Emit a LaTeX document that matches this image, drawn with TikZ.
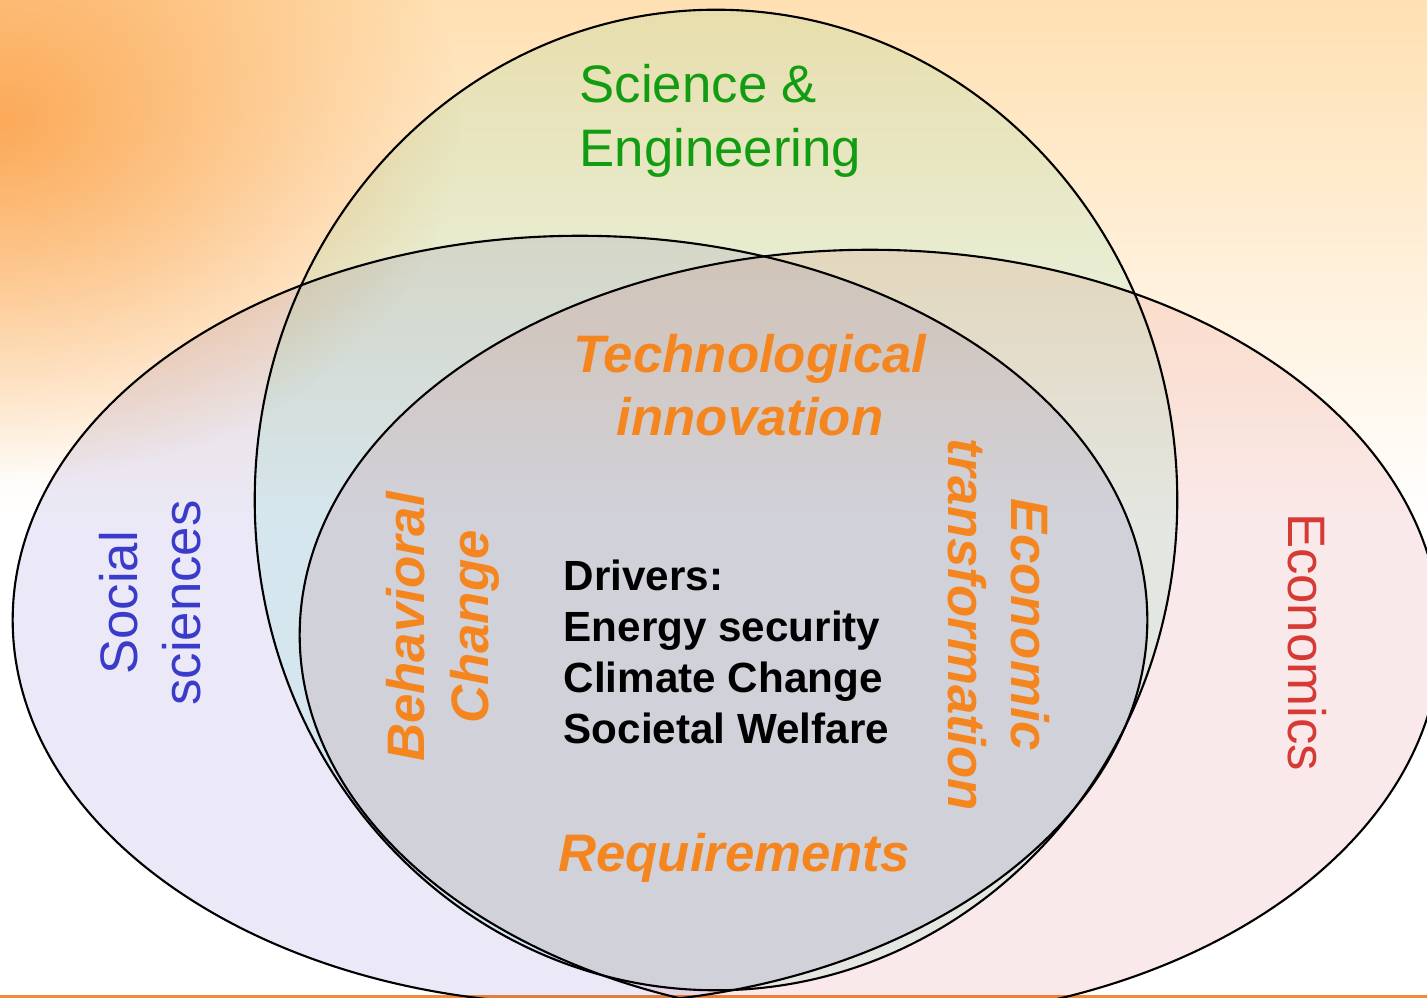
\documentclass[tikz,border=0pt]{standalone}
\usepackage{fontspec}
\setmainfont{Liberation Sans}
\usetikzlibrary{fadings}
\definecolor{bgpeach}{HTML}{FFE0B2}
\definecolor{bgorange}{HTML}{FB9F45}
\definecolor{socfill}{HTML}{EBE9F7}
\definecolor{econfill}{HTML}{FAE9EA}
\definecolor{scifill}{HTML}{E8FCF6}
\definecolor{scigreen}{HTML}{129C12}
\definecolor{socblue}{HTML}{3B3BCB}
\definecolor{econred}{HTML}{D63A35}
\definecolor{keyorange}{HTML}{F5861F}
\definecolor{rule}{HTML}{F58A3A}
\tikzfading[name=glow, inner color=transparent!0, outer color=transparent!100]

\begin{document}
\begin{tikzpicture}[x=0.01cm,y=-0.01cm,
  field/.style={font=\fontsize{15}{18}\selectfont,align=center,inner sep=0pt},
  theme/.style={font=\fontsize{15}{18}\selectfont\bfseries\itshape,text=keyorange,align=center,inner sep=0pt},
  driver/.style={font=\fontsize{12}{14.5}\selectfont\bfseries,align=left,inner sep=0pt},
  rim/.style={draw=black,line width=0.6pt}]
\useasboundingbox (0,0) rectangle (1427,998);
\clip (0,0) rectangle (1427,998);
% backdrop
\fill[white] (0,0) rectangle (1427,998);
\shade[top color=bgpeach,bottom color=white] (0,0) rectangle (1427,520);
\fill[bgorange,path fading=glow,opacity=0.85] (0,120) ellipse [x radius=4.6cm,y radius=3.6cm];
\fill[rule] (0,995) rectangle (1427,998);
% the three fields
\coordinate (socsci) at (580,620);
\coordinate (econ) at (870,635);
\coordinate (scieng) at (716,500);
\begin{scope}[blend mode=multiply]
\fill[socfill] (socsci) ellipse [x radius=5.67cm,y radius=3.84cm];
\fill[econfill] (econ) ellipse [x radius=5.7cm,y radius=3.85cm];
\fill[scifill] (scieng) ellipse [x radius=4.61cm,y radius=4.9cm];
\end{scope}
\draw[rim] (socsci) ellipse [x radius=5.67cm,y radius=3.84cm];
\draw[rim] (econ) ellipse [x radius=5.7cm,y radius=3.85cm];
\draw[rim] (scieng) ellipse [x radius=4.61cm,y radius=4.9cm];
% labels
\node[field,text=scigreen,align=left,anchor=north west] (scieng-label) at (579,64) {Science \&\\Engineering};
\node[field,text=socblue,rotate=90] (socsci-label) at (150,603) {Social\\sciences};
\node[field,text=econred,rotate=-90] (econ-label) at (1307,642) {Economics};
\node[theme] (tech) at (750,385) {Technological\\innovation};
\node[theme,rotate=90] (behav) at (443,627) {Behavioral\\Change};
\node[theme,rotate=-90] (transf) at (999,625) {Economic\\transformation};
\node[driver,anchor=north west] (drivers) at (563,559) {Drivers:\\Energy security\\Climate Change\\Societal Welfare};
\node[theme,anchor=base] (req) at (734,872) {Requirements};
\end{tikzpicture}
\end{document}
